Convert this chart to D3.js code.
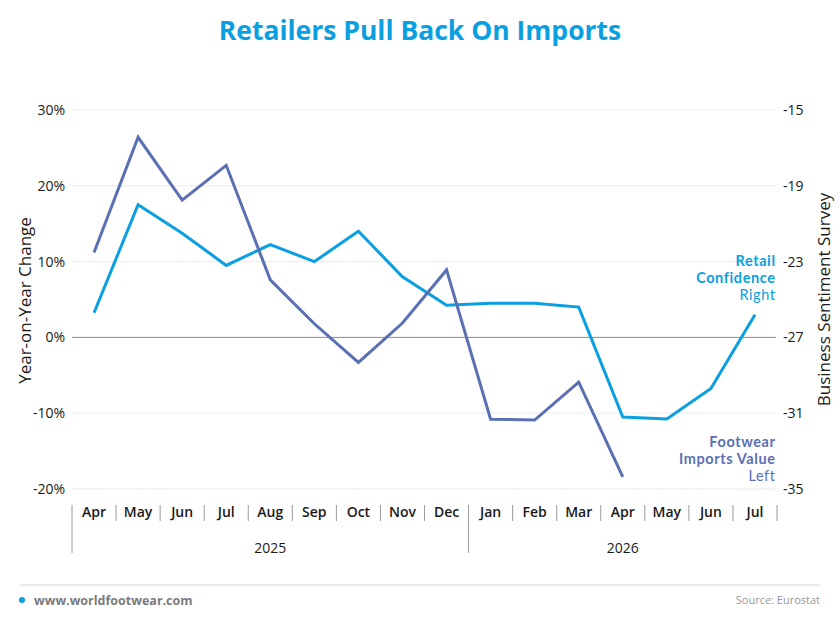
<!DOCTYPE html>
<html>
<head>
<meta charset="utf-8">
<script src="https://cdn.jsdelivr.net/npm/d3@7"></script>
<style>
  body { margin: 0; background: #fff; }
  svg { display: block; font-family: "Open Sans", sans-serif; }
</style>
</head>
<body>
<div id="chart"></div>
<script>
var months = ["Apr", "May", "Jun", "Jul", "Aug", "Sep", "Oct", "Nov", "Dec",
              "Jan", "Feb", "Mar", "Apr", "May", "Jun", "Jul"];
var years = ["2025", "2026"];
var yearOfMonth = [0, 0, 0, 0, 0, 0, 0, 0, 0, 1, 1, 1, 1, 1, 1, 1];

// footwear imports value, y-o-y % (left axis); no data after Apr 2026
var importsValue = [11.2, 26.4, 18.1, 22.7, 7.6, 1.8, -3.3, 1.9, 8.9,
                    -10.8, -10.9, -5.9, -18.4, null, null, null];
// retail confidence, balance (right axis)
var retailConfidence = [-25.7, -20.0, -21.5, -23.2, -22.1, -23.0, -21.4, -23.8, -25.3,
                        -25.2, -25.2, -25.4, -31.2, -31.3, -29.7, -25.8];

var leftTicks = [30, 20, 10, 0, -10, -20];
var rightTicks = [-15, -19, -23, -27, -31, -35];

var width = 840, height = 624;
var plot = { left: 72, right: 777, top: 110, bottom: 489 };
var blue = "#0a9fe1", slate = "#5b70b4";

var svg = d3.select("#chart").append("svg")
    .attr("width", width)
    .attr("height", height);

var x = d3.scaleBand()
    .domain(d3.range(months.length))
    .range([plot.left, plot.right]);

var yLeft = d3.scaleLinear()
    .domain([-20, 30])
    .range([plot.bottom, plot.top]);

var yRight = d3.scaleLinear()
    .domain([-35, -15])
    .range([plot.bottom, plot.top]);

// title
svg.append("text")
    .attr("x", width / 2)
    .attr("y", 40)
    .attr("text-anchor", "middle")
    .style("font-size", "26.5px")
    .style("font-weight", "700")
    .style("fill", blue)
    .text("Retailers Pull Back On Imports");

// gridlines
svg.append("g")
    .selectAll("line")
    .data(leftTicks)
    .join("line")
    .attr("x1", plot.left)
    .attr("x2", plot.right - 1)
    .attr("y1", function (d) { return yLeft(d); })
    .attr("y2", function (d) { return yLeft(d); })
    .style("stroke", function (d) { return d === 0 ? "#8a8a8a" : "#ececec"; })
    .style("stroke-width", 1);

// left axis
var leftAxis = svg.append("g")
    .attr("transform", "translate(" + (plot.left - 7) + ",0)")
    .call(d3.axisLeft(yLeft).tickValues(leftTicks).tickSize(0).tickPadding(0)
        .tickFormat(function (d) { return d + "%"; }));
leftAxis.select(".domain").remove();
leftAxis.selectAll("text")
    .style("font-size", "14px")
    .style("font-family", "'Open Sans', sans-serif")
    .style("fill", "#1a1a1a");

// right axis
var rightAxis = svg.append("g")
    .attr("transform", "translate(" + (plot.right + 6) + ",0)")
    .call(d3.axisRight(yRight).tickValues(rightTicks).tickSize(0).tickPadding(0)
        .tickFormat(function (d) { return String(d); }));
rightAxis.select(".domain").remove();
rightAxis.selectAll("text")
    .style("font-size", "14px")
    .style("font-family", "'Open Sans', sans-serif")
    .style("fill", "#1a1a1a");

// axis titles
svg.append("text")
    .attr("transform", "translate(25," + ((plot.top + plot.bottom) / 2 + 1) + ") rotate(-90)")
    .attr("text-anchor", "middle")
    .attr("dy", "0.35em")
    .style("font-size", "17px")
    .style("fill", "#1a1a1a")
    .text("Year-on-Year Change");

svg.append("text")
    .attr("transform", "translate(824," + ((plot.top + plot.bottom) / 2) + ") rotate(-90)")
    .attr("text-anchor", "middle")
    .attr("dy", "0.35em")
    .style("font-size", "17px")
    .style("fill", "#1a1a1a")
    .text("Business Sentiment Survey");

// lines
var cx = function (d, i) { return x(i) + x.bandwidth() / 2; };

var lineLeft = d3.line()
    .defined(function (d) { return d !== null; })
    .x(cx)
    .y(function (d) { return yLeft(d); });

var lineRight = d3.line()
    .x(cx)
    .y(function (d) { return yRight(d); });

svg.append("path")
    .datum(retailConfidence)
    .attr("d", lineRight)
    .style("fill", "none")
    .style("stroke", blue)
    .style("stroke-width", 3);

svg.append("path")
    .datum(importsValue)
    .attr("d", lineLeft)
    .style("fill", "none")
    .style("stroke", slate)
    .style("stroke-width", 3);

// series labels, one text per line (Lato has a tighter line box)
function seriesLabel(lines, color, y0) {
    lines.forEach(function (l, i) {
        svg.append("text")
            .attr("x", plot.right - 1.4)
            .attr("y", y0 + i * 17)
            .attr("text-anchor", "end")
            .style("font-family", "Lato, sans-serif")
            .style("font-size", "14.5px")
            .style("letter-spacing", "0.6px")
            .style("font-weight", l.bold ? "700" : "400")
            .style("fill", color)
            .text(l.text);
    });
}
seriesLabel([{ text: "Retail", bold: true }, { text: "Confidence", bold: true }, { text: "Right" }], blue, 266);
seriesLabel([{ text: "Footwear", bold: true }, { text: "Imports Value", bold: true }, { text: "Left" }], slate, 447);

// month labels
var xAxis = svg.append("g");
xAxis.selectAll("text.month")
    .data(months)
    .join("text")
    .attr("class", "month")
    .attr("x", cx)
    .attr("y", 517)
    .attr("text-anchor", "middle")
    .style("font-size", "14px")
    .style("font-weight", "600")
    .style("fill", "#1a1a1a")
    .text(function (d) { return d; });

// separators between months, longer at year boundaries
var bounds = d3.range(months.length + 1);
xAxis.selectAll("line.sep")
    .data(bounds)
    .join("line")
    .attr("class", "sep")
    .attr("x1", function (i) { return i < months.length ? x(i) : plot.right; })
    .attr("x2", function (i) { return i < months.length ? x(i) : plot.right; })
    .attr("y1", 505)
    .attr("y2", function (i) {
        var yearStart = i === 0 || (i < months.length && yearOfMonth[i] !== yearOfMonth[i - 1]);
        return yearStart ? 553 : 521;
    })
    .style("stroke", "#9a9a9a")
    .style("stroke-width", 1);

// year labels
xAxis.selectAll("text.year")
    .data(years)
    .join("text")
    .attr("class", "year")
    .attr("x", function (d, yi) {
        var idx = d3.range(months.length).filter(function (i) { return yearOfMonth[i] === yi; });
        return (x(idx[0]) + x(idx[idx.length - 1]) + x.bandwidth()) / 2;
    })
    .attr("y", 553)
    .attr("text-anchor", "middle")
    .style("font-size", "14px")
    .style("fill", "#1a1a1a")
    .text(function (d) { return d; });

// footer
svg.append("line")
    .attr("x1", 20).attr("x2", 820)
    .attr("y1", 585).attr("y2", 585)
    .style("stroke", "#d6d6d6");

svg.append("circle")
    .attr("cx", 22).attr("cy", 600).attr("r", 3)
    .style("fill", blue);

svg.append("text")
    .attr("x", 34).attr("y", 604.5)
    .style("font-size", "12.5px")
    .style("font-weight", "700")
    .style("fill", "#7b7b7b")
    .text("www.worldfootwear.com");

svg.append("text")
    .attr("x", 820).attr("y", 604)
    .attr("text-anchor", "end")
    .style("font-size", "11px")
    .style("fill", "#9a9a9a")
    .text("Source: Eurostat");
</script>
</body>
</html>
